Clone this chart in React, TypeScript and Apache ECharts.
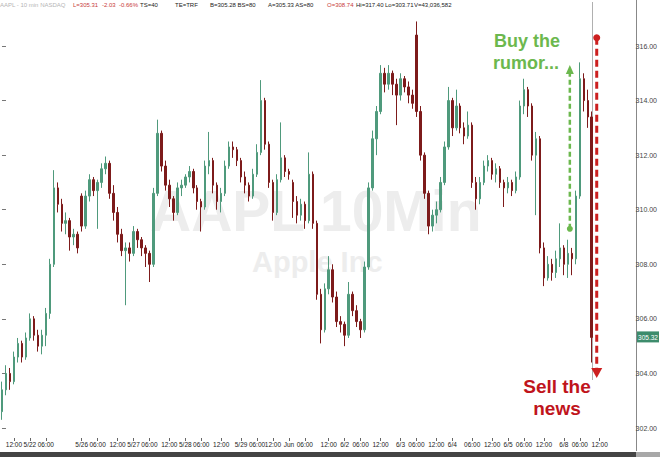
import React, { useEffect, useRef } from "react";
import * as echarts from "echarts";

// ---- Data (10-minute AAPL candles) ----
const opens = [
  302.6, 303.4, 304.0, 303.7, 304.6, 305.1, 304.6, 305.3, 306.0, 305.4,
  305.0, 305.4, 306.2, 308.0, 310.8, 310.2, 309.5, 309.6, 309.0, 309.1,
  310.5, 309.4, 310.5, 311.1, 310.7, 311.0, 311.5, 311.7, 310.6, 309.9,
  309.1, 308.5, 308.6, 308.4, 309.2, 308.9, 308.6, 308.4, 308.0, 310.6,
  312.8, 311.6, 310.9, 310.4, 309.9, 310.8, 310.9, 311.2, 311.4, 310.8,
  310.3, 310.1, 311.6, 311.8, 310.9, 310.3, 310.6, 311.6, 312.3, 312.2,
  311.8, 311.2, 310.9, 310.5, 311.3, 312.1, 314.0, 312.4, 311.0, 309.9,
  311.1, 311.9, 311.4, 311.0, 310.3, 309.8, 310.2, 309.6, 311.3, 309.5,
  306.9, 305.6, 307.1, 307.8, 306.8, 305.9, 305.8, 305.4, 306.9, 306.3,
  305.9, 305.6, 307.9, 310.8, 312.6, 313.6, 315.0, 314.6, 315.0, 314.6,
  314.2, 314.8, 314.5, 314.2, 316.4, 313.6, 312.0, 310.6, 309.4, 309.8,
  310.0, 311.0, 312.3, 314.0, 313.0, 313.8, 313.0, 312.7, 313.1, 311.0,
  310.4, 311.0, 311.6, 311.8, 311.3, 311.5, 311.0, 310.8, 311.0, 310.7,
  311.2, 313.8, 314.4, 313.8, 312.0, 312.6, 308.6, 307.5, 308.0, 307.7,
  308.2, 308.6, 308.0, 308.4, 308.2, 310.5, 314.8, 314.0, 313.4,
];
const closes = [
  303.4, 304.0, 303.7, 304.6, 305.1, 304.6, 305.3, 306.0, 305.4, 305.0,
  305.4, 306.2, 308.0, 310.8, 310.2, 309.5, 309.6, 309.0, 309.1, 308.6,
  309.4, 310.5, 311.1, 310.7, 311.0, 311.5, 311.7, 310.6, 309.9, 309.1,
  308.5, 308.6, 308.4, 309.2, 308.9, 308.6, 308.4, 308.0, 310.6, 312.8,
  311.6, 310.9, 310.4, 309.9, 310.8, 310.9, 311.2, 311.4, 310.8, 310.3,
  310.1, 311.6, 311.8, 310.9, 310.3, 310.6, 311.6, 312.3, 312.2, 311.8,
  311.2, 310.9, 310.5, 311.3, 312.1, 314.0, 312.4, 311.0, 309.9, 311.1,
  311.9, 311.4, 311.3, 310.3, 309.8, 310.2, 309.6, 311.3, 309.5, 306.9,
  305.6, 307.1, 307.8, 306.8, 305.9, 305.8, 305.4, 306.9, 306.3, 305.9,
  305.6, 307.9, 310.8, 312.6, 313.6, 315.0, 314.6, 315.0, 314.6, 314.2,
  314.8, 314.5, 314.2, 313.9, 313.6, 312.0, 310.6, 309.4, 309.8, 310.0,
  311.0, 312.3, 314.0, 313.0, 313.8, 313.0, 312.7, 313.1, 311.0, 310.4,
  311.0, 311.6, 311.8, 311.3, 311.5, 311.0, 310.8, 311.0, 310.7, 311.2,
  313.8, 314.4, 313.8, 312.0, 312.6, 308.6, 307.5, 308.0, 307.7, 308.2,
  308.6, 308.0, 308.4, 308.2, 310.5, 314.8, 314.0, 313.4, 305.32,
];
const lows = [
  302.3, 303.2, 303.4, 303.6, 304.4, 304.4, 304.5, 305.2, 305.2, 304.8,
  304.7, 305.0, 306.0, 307.9, 309.9, 309.2, 309.1, 308.5, 308.7, 308.4,
  309.2, 309.3, 310.3, 310.5, 309.3, 310.8, 311.3, 310.4, 309.6, 308.8,
  308.3, 306.5, 308.1, 308.3, 308.6, 308.3, 307.9, 307.35, 307.9, 310.5,
  311.4, 310.7, 310.1, 309.6, 309.8, 310.5, 310.8, 311.0, 310.6, 310.0,
  309.2, 310.0, 311.3, 310.6, 310.0, 309.9, 310.5, 311.5, 311.9, 311.6,
  311.0, 310.6, 310.3, 310.4, 311.2, 312.0, 312.2, 310.8, 309.6, 309.8,
  311.0, 311.2, 311.1, 309.7, 309.5, 309.6, 309.3, 309.5, 309.3, 306.7,
  305.1, 305.5, 306.9, 306.6, 305.7, 305.5, 305.0, 305.3, 306.1, 305.7,
  305.3, 305.5, 307.8, 310.7, 312.0, 313.5, 314.3, 314.4, 314.2, 313.1,
  314.0, 314.3, 313.9, 313.7, 313.4, 311.8, 310.4, 309.1, 309.2, 309.5,
  309.9, 310.9, 312.2, 312.7, 312.9, 312.8, 312.4, 312.6, 310.8, 310.0,
  310.2, 310.9, 311.4, 311.1, 311.0, 310.8, 310.1, 310.6, 310.5, 310.6,
  311.1, 313.5, 313.4, 311.8, 309.8, 308.4, 307.2, 307.4, 307.4, 307.5,
  307.9, 307.6, 307.5, 307.6, 308.0, 310.4, 313.6, 313.0, 304.4,
];
const highs = [
  303.7, 304.3, 304.2, 304.8, 305.3, 305.2, 305.5, 306.2, 306.1, 305.6,
  305.6, 306.4, 308.2, 311.45, 311.0, 310.4, 309.9, 309.7, 309.3, 309.2,
  310.6, 310.7, 311.3, 311.2, 311.1, 311.7, 311.95, 311.8, 310.9, 310.1,
  309.3, 308.8, 308.8, 309.4, 309.3, 309.0, 308.7, 308.5, 310.8, 313.3,
  312.9, 311.8, 311.1, 310.5, 311.0, 311.1, 311.3, 311.6, 311.5, 310.9,
  310.4, 311.8, 312.85, 311.9, 311.0, 310.8, 311.8, 312.5, 312.5, 312.3,
  311.9, 311.4, 311.0, 311.5, 312.4, 314.75, 314.1, 312.5, 311.1, 311.3,
  313.2, 312.0, 311.5, 311.1, 310.5, 310.4, 310.3, 312.1, 311.4, 309.6,
  307.1, 307.3, 308.3, 308.0, 307.0, 306.1, 305.9, 307.35, 307.0, 306.5,
  306.0, 308.1, 311.0, 312.9, 313.8, 315.3, 315.2, 315.3, 315.1, 314.8,
  315.0, 314.9, 314.7, 314.4, 316.9, 313.8, 312.1, 310.7, 310.0, 310.3,
  311.2, 312.5, 314.5, 314.1, 314.4, 313.9, 313.2, 313.6, 313.2, 311.2,
  311.2, 311.8, 312.0, 311.9, 311.7, 311.6, 311.1, 311.2, 311.1, 311.4,
  314.0, 314.8, 314.5, 313.9, 312.85, 312.7, 308.8, 308.3, 308.2, 308.5,
  309.5, 308.7, 308.9, 308.6, 310.7, 315.4, 315.0, 314.4, 313.6,
];

// x-axis tick labels: [slot index, text]
const tickLabels: [number, string][] = [
  [3, "12:00"], [7, "5/22"], [11, "06:00"], [20, "5/26"], [24, "06:00"],
  [29, "12:00"], [33, "5/27"], [37, "06:00"], [42, "12:00"], [46, "5/28"],
  [50, "06:00"], [55, "12:00"], [60, "5/29"], [64, "06:00"], [68, "12:00"],
  [72, "Jun"], [76, "06:00"], [82, "12:00"], [86, "6/2"], [90, "06:00"],
  [95, "12:00"], [100, "6/3"], [104, "06:00"], [109, "12:00"], [113, "6/4"],
  [118, "06:00"], [123, "12:00"], [127, "6/5"], [131, "06:00"], [136, "12:00"],
  [141, "6/8"], [145, "06:00"], [150, "12:00"],
];
const AXIS_SLOTS = 159;

// annotation arrows: slot position, from price (dot), to price (tip)
const buyArrow = { at: 142.5, from: 309.3, to: 315.3 };
const sellArrow = { at: 149.25, from: 316.3, to: 303.83 };

const headerParts: [string, string, number][] = [
  ["AAPL - 10 min NASDAQ", "#b5b5b5", 0],
  ["L=305.31", "#c83a3a", 73],
  ["-2.03", "#c83a3a", 102],
  ["-0.66%", "#c83a3a", 119],
  ["TS=40", "#222", 140],
  ["TE=TRF", "#222", 175],
  ["B=305.28 BS=80", "#222", 210],
  ["A=305.33 AS=80", "#222", 268],
  ["O=308.74", "#c83a3a", 327],
  ["Hi=317.40", "#222", 356],
  ["Lo=303.71", "#222", 385],
  ["V=43,036,582", "#222", 414],
];

const FONT = '"Liberation Sans", Arial, sans-serif';

export default function App() {
  const ref = useRef<HTMLDivElement>(null);
  useEffect(() => {
    if (!ref.current) return;
    const chart = echarts.init(ref.current, undefined, { renderer: "svg" });
    const labelAt = new Map(tickLabels);
    const categories = Array.from({ length: AXIS_SLOTS }, (_, i) => `b${i}`);
    const showTick = (i: number) => labelAt.has(i);
    const candles = closes.map((c, i) => [opens[i], c, lows[i], highs[i]]);
    const lastClose = closes[closes.length - 1];

    chart.setOption({
      animation: false,
      backgroundColor: "#ffffff",
      grid: { left: 0, right: 24, top: 46, bottom: 29, containLabel: false },
      xAxis: [
        {
          type: "category",
          data: categories,
          boundaryGap: true,
          offset: 10,
          axisLine: { show: false },
          axisTick: { show: true, alignWithLabel: true, interval: (i: number) => showTick(i), length: 3, lineStyle: { color: "#666" } },
          axisLabel: {
            interval: (i: number) => showTick(i),
            formatter: (_v: string, i: number) => labelAt.get(i) ?? "",
            showMinLabel: true,
            showMaxLabel: true,
            fontSize: 6.5, color: "#222", margin: 3, fontFamily: FONT,
          },
          splitLine: { show: false },
        },
        { type: "value", min: -0.5, max: AXIS_SLOTS - 0.5, show: false },
      ],
      yAxis: {
        type: "value",
        position: "right",
        min: 302,
        max: 316,
        interval: 2,
        axisLine: { show: false },
        axisTick: { show: true, length: 4, lineStyle: { color: "#777" } },
        axisLabel: { fontSize: 7, color: "#444", margin: 2, fontFamily: FONT, formatter: (v: number) => v.toFixed(2) },
        splitLine: { show: false },
      },
      series: [
        {
          type: "candlestick",
          data: candles,
          clip: false,
          barWidth: 2,
          z: 3,
          itemStyle: {
            color: "#4f9a7c",
            color0: "#7d1b1b",
            borderColor: "#4f9a7c",
            borderColor0: "#7d1b1b",
            borderWidth: 1,
          },
        },
        {
          type: "line",
          xAxisIndex: 1,
          data: [],
          symbol: "none",
          silent: true,
        },
      ],
    });

    const toPx = (x: number, y: number) => chart.convertToPixel({ seriesIndex: 1 }, [x, y]) as number[];

    const arrow = (a: { at: number; from: number; to: number }, color: string, lw: number, dash: number[], headW: number, headH: number, r: number) => {
      const [x, y0] = toPx(a.at, a.from);
      const [, y1] = toPx(a.at, a.to);
      const dir = y1 > y0 ? 1 : -1;
      const base = y1 - dir * headH;
      return [
        { type: "line", z: 50, silent: true, shape: { x1: x, y1: y0, x2: x, y2: base }, style: { stroke: color, lineWidth: lw, lineDash: dash } },
        { type: "circle", z: 50, silent: true, shape: { cx: x, cy: y0, r }, style: { fill: color } },
        { type: "polygon", z: 50, silent: true, shape: { points: [[x, y1], [x - headW / 2, base], [x + headW / 2, base]] }, style: { fill: color } },
      ];
    };

    const [, tagY] = toPx(0, lastClose);
    const [curX] = toPx(148.25, lastClose);

    const graphics: any[] = [
      {
        type: "text", x: 150, y: 211, z: -10, silent: true,
        style: { text: "AAPL 10Min", fill: "#ededed", font: `bold 57px ${FONT}`, textVerticalAlign: "middle", verticalAlign: "middle" },
      },
      {
        type: "text", x: 252, y: 262, z: -10, silent: true,
        style: { text: "Apple Inc", fill: "#ededed", font: `bold 29px ${FONT}`, textVerticalAlign: "middle", verticalAlign: "middle" },
      },
      {
        type: "line", z: -5, silent: true,
        shape: { x1: Math.round(curX) - 0.5, y1: 2, x2: Math.round(curX) - 0.5, y2: 380 },
        style: { stroke: "#b0b0b0", lineWidth: 1 },
      },
      {
        type: "line", silent: true,
        shape: { x1: 636.5, y1: 0, x2: 636.5, y2: 451 },
        style: { stroke: "#888", lineWidth: 1 },
      },
      { type: "rect", silent: true, shape: { x: 0, y: 452, width: 636, height: 5 }, style: { fill: "#444" } },
      { type: "rect", silent: true, shape: { x: 636, y: 452, width: 24, height: 5 }, style: { fill: "#a8a8a8" } },
      { type: "rect", z: 20, silent: true, shape: { x: 637, y: tagY - 6, width: 22, height: 11 }, style: { fill: "#3d8c6c" } },
      {
        type: "text", x: 648, y: tagY, z: 21, silent: true,
        style: { text: lastClose.toFixed(2), fill: "#ffffff", font: `6.5px ${FONT}`, textAlign: "center", align: "center", textVerticalAlign: "middle", verticalAlign: "middle" },
      },
      ...arrow(buyArrow, "#6cb84e", 2.5, [5, 3], 8, 9, 3),
      ...arrow(sellArrow, "#cc1f1f", 3, [7, 4], 11, 10, 3.5),
      {
        type: "text", x: 494, y: 41, z: 100, silent: true,
        style: { text: "Buy the", fill: "#6cb84e", font: `bold 18px ${FONT}`, textVerticalAlign: "middle", verticalAlign: "middle" },
      },
      {
        type: "text", x: 493, y: 63, z: 100, silent: true,
        style: { text: "rumor...", fill: "#6cb84e", font: `bold 18px ${FONT}`, textVerticalAlign: "middle", verticalAlign: "middle" },
      },
      {
        type: "text", x: 557, y: 386, z: 100, silent: true,
        style: { text: "Sell the", fill: "#c0141c", font: `bold 19px ${FONT}`, textAlign: "center", align: "center", textVerticalAlign: "middle", verticalAlign: "middle" },
      },
      {
        type: "text", x: 557, y: 408, z: 100, silent: true,
        style: { text: "news", fill: "#c0141c", font: `bold 19px ${FONT}`, textAlign: "center", align: "center", textVerticalAlign: "middle", verticalAlign: "middle" },
      },
      ...headerParts.map(([t, c, x]) => ({
        type: "text", x, y: 5, silent: true,
        style: { text: t, fill: c, font: `6px ${FONT}`, textVerticalAlign: "middle", verticalAlign: "middle" },
      })),
    ];

    chart.setOption({ graphic: graphics });
    return () => chart.dispose();
  }, []);
  return <div ref={ref} style={{ position: "fixed", left: 0, top: 0, width: 660, height: 457 }} />;
}
